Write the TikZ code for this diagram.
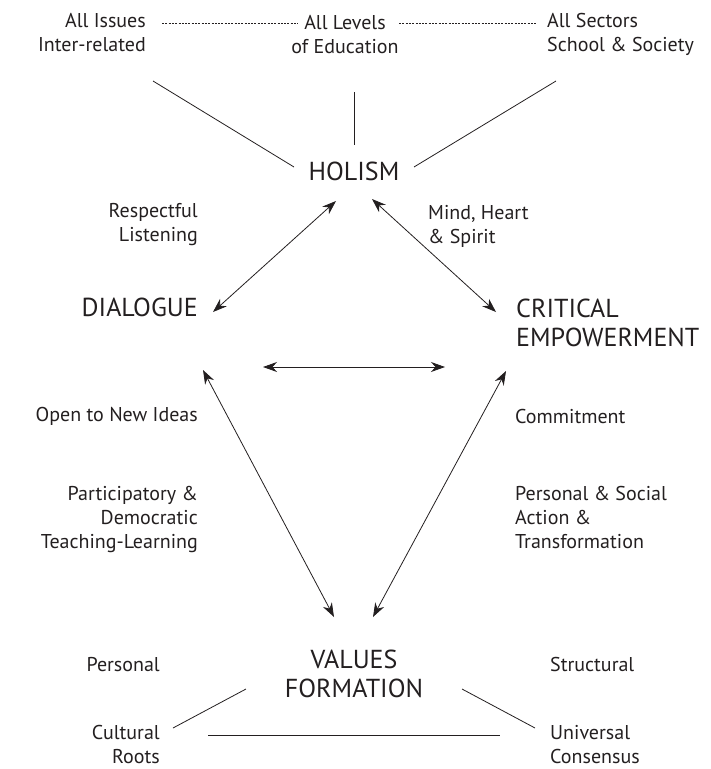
\documentclass[tikz,border=0pt]{standalone}
\usepackage{fontspec}
\setmainfont{PT Sans}
\usetikzlibrary{arrows.meta}
\definecolor{ink}{HTML}{231F20}
\begin{document}
\begin{tikzpicture}[x=1pt,y=-1pt,
  every node/.style={inner sep=0pt, text=ink},
  small/.style={font=\fontsize{20}{24}\selectfont},
  big/.style={font=\fontsize{26}{29}\selectfont},
  conn/.style={draw=ink, line width=0.8pt},
  dots/.style={draw=ink, line width=0.7pt, dash pattern=on 2pt off 1.3pt},
  dbl/.style={draw=ink, line width=0.8pt, {Stealth[length=14pt,width=10pt,inset=4.5pt]}-{Stealth[length=14pt,width=10pt,inset=4.5pt]}}
]
\useasboundingbox (0,0) rectangle (711,769);
% top labels (anchor = baseline of last line)
\node[small, align=right, anchor=base east] (issues) at (146,51) {All Issues\\Inter-related};
\node[small, align=center, anchor=base] (levels) at (345,53) {All Levels\\of Education};
\node[small, align=left, anchor=base west] (sectors) at (547,51) {All Sectors\\School \& Society};
% main concepts
\node[big, anchor=base] (holism) at (354,180) {HOLISM};
\node[big, anchor=base east] (dialogue) at (198,316) {DIALOGUE};
\node[big, align=left, anchor=base west] (critical) at (516,346) {CRITICAL\\EMPOWERMENT};
\node[big, align=center, anchor=base] (values) at (354,697) {VALUES\\FORMATION};
% side labels
\node[small, align=right, anchor=base east] (respect) at (198,241) {Respectful\\Listening};
\node[small, align=left, anchor=base west] (mind) at (428,243) {Mind, Heart\\\& Spirit};
\node[small, anchor=base east] (open) at (198,421) {Open to New Ideas};
\node[small, anchor=base west] (commit) at (515,423) {Commitment};
\node[small, align=right, anchor=base east] (partic) at (198,548) {Participatory \&\\Democratic\\Teaching-Learning};
\node[small, align=left, anchor=base west] (action) at (515,548) {Personal \& Social\\Action \&\\Transformation};
\node[small, anchor=base east] (personal) at (160,671) {Personal};
\node[small, anchor=base west] (struct) at (550,671) {Structural};
\node[small, align=right, anchor=base east] (cultural) at (160,763) {Cultural\\Roots};
\node[small, align=left, anchor=base west] (universal) at (550,763) {Universal\\Consensus};
% connector end points
\coordinate (issues-e) at (162,23);
\coordinate (levels-w) at (298,23);
\coordinate (levels-e) at (399,23);
\coordinate (sectors-w) at (537,23);
\coordinate (issues-s) at (153,81);
\coordinate (holism-nw) at (294,167);
\coordinate (levels-s) at (354,92);
\coordinate (holism-n) at (354,145);
\coordinate (sectors-s) at (556,81);
\coordinate (holism-ne) at (414,167);
\coordinate (holism-sw) at (336,201);
\coordinate (dialogue-e) at (213,312);
\coordinate (holism-se) at (372,199);
\coordinate (critical-w) at (496,312);
\coordinate (mid-w) at (263,367);
\coordinate (mid-e) at (445,367);
\coordinate (dialogue-s) at (203,370);
\coordinate (values-nw) at (334,617);
\coordinate (critical-s) at (506,371);
\coordinate (values-ne) at (373,617);
\coordinate (values-sw) at (246,689);
\coordinate (cultural-ne) at (173,728);
\coordinate (values-se) at (462,689);
\coordinate (universal-nw) at (535,728);
\coordinate (cultural-e) at (208,735);
\coordinate (universal-w) at (500,735);
% dotted links
\draw[dots] (issues-e) -- (levels-w);
\draw[dots] (levels-e) -- (sectors-w);
% holism links
\draw[conn] (issues-s) -- (holism-nw);
\draw[conn] (levels-s) -- (holism-n);
\draw[conn] (sectors-s) -- (holism-ne);
% double arrows
\draw[dbl] (holism-sw) -- (dialogue-e);
\draw[dbl] (holism-se) -- (critical-w);
\draw[dbl] (mid-w) -- (mid-e);
\draw[dbl] (dialogue-s) -- (values-nw);
\draw[dbl] (critical-s) -- (values-ne);
% values links
\draw[conn] (values-sw) -- (cultural-ne);
\draw[conn] (values-se) -- (universal-nw);
\draw[conn] (cultural-e) -- (universal-w);
\end{tikzpicture}
\end{document}
